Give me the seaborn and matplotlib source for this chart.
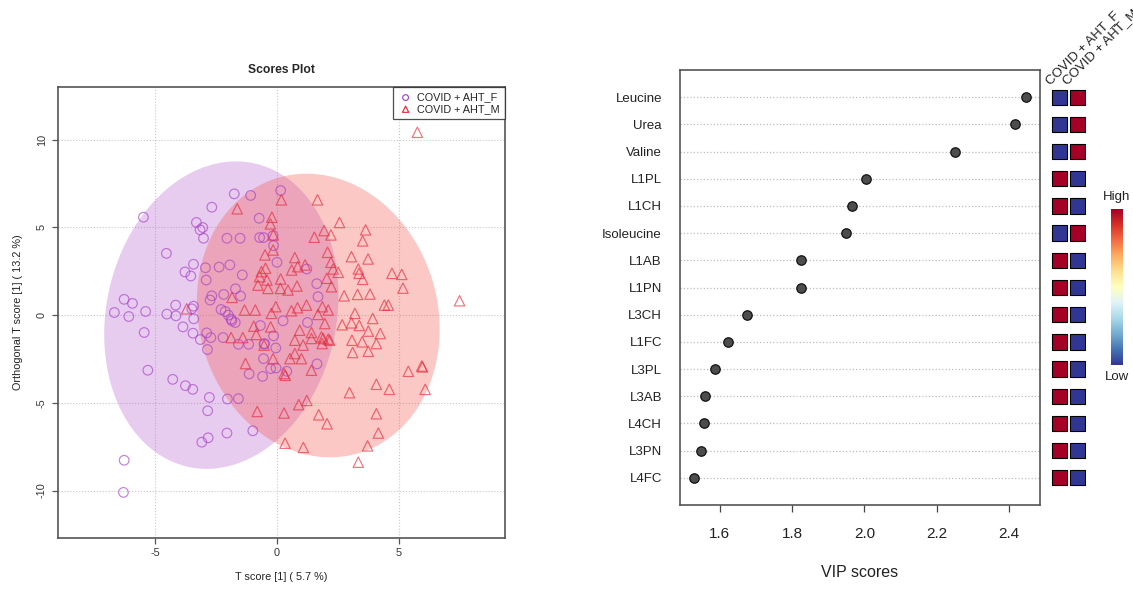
import numpy as np
import pandas as pd
import matplotlib
matplotlib.use("Agg")
import matplotlib.pyplot as plt
import seaborn as sns

sns.set_style("white")
plt.rcParams['font.family'] = ['Liberation Sans', 'DejaVu Sans']

# ---- scores plot data (T score, orthogonal T score) ----
f_t = [-5.47, -1.75, -1.08, 0.15, -2.67, -3.30, -3.04, -3.15, -3.01, -0.73,
       -2.05, -1.51, -0.71, -0.55, -0.16, -0.14, -4.53, -3.42, -3.77, -3.53,
       -2.93, -2.37, -1.93, 0.00, -2.90, -1.42, 1.22, 1.63, 1.68, -2.18,
       -1.70, -1.49, -2.67, -2.74, -6.26, -5.92, -6.66, -6.07, -5.38, -4.51,
       -4.15, -4.14, -3.42, -3.49, -3.41, -3.85, -3.44, -5.44, -2.29, -2.12,
       -1.99, -1.88, -1.71, -1.85, 0.25, 1.25, -0.68, -2.88, -2.71, -2.21,
       -1.58, -1.16, -0.14, -0.53, -0.05, -2.85, -3.14, 1.64, -0.55, -0.26,
       -0.04, 0.40, -1.14, -0.59, -5.29, -4.27, -3.75, -3.45, -2.77, -2.03,
       -1.58, -2.84, -2.05, -2.82, -3.08, -0.99, -6.26, -6.29, -0.51]
f_o = [5.58, 6.91, 6.82, 7.10, 6.15, 5.28, 4.99, 4.86, 4.38, 5.52,
       4.38, 4.38, 4.42, 4.42, 4.53, 3.96, 3.52, 2.90, 2.46, 2.23,
       2.70, 2.74, 2.86, 3.01, 2.00, 2.29, 2.63, 1.79, 1.05, 1.18,
       1.50, 1.09, 1.10, 0.86, 0.90, 0.67, 0.15, -0.08, 0.21, 0.06,
       0.57, -0.04, 0.51, 0.36, -0.21, -0.67, -1.03, -0.99, 0.32, 0.21,
       0.00, -0.23, -0.42, -0.32, -0.32, -0.42, -0.59, -1.01, -1.28, -1.28,
       -1.66, -1.66, -1.18, -1.66, -1.87, -1.96, -1.39, -2.78, -2.48, -3.05,
       -3.01, -3.20, -3.35, -3.49, -3.14, -3.66, -4.02, -4.23, -4.69, -4.78,
       -4.76, -5.45, -6.72, -6.99, -7.24, -6.59, -8.27, -10.10, -1.62]

m_t = [5.75, -1.63, 0.18, 1.66, -0.21, -0.27, 2.56, 3.63, 1.53, 1.93,
       2.21, 3.51, -0.15, -0.16, -0.49, 2.07, 3.05, 3.73, 0.73, 2.21,
       2.30, 0.85, 1.15, 0.60, -0.47, -0.64, -0.71, -0.41, 2.51, 3.33,
       3.36, 3.51, 4.71, 5.11, 5.16, 0.15, 0.82, -0.78, -0.37, 0.14,
       0.45, 2.04, 2.23, 2.75, 3.30, 3.81, 7.48, 4.40, 4.56, -1.84,
       -3.70, -1.33, -0.89, -0.05, -0.23, 0.59, 0.84, 1.21, 1.86, 2.10,
       1.68, 3.19, 3.92, 2.67, 3.05, 3.37, 4.23, 3.74, 1.96, 0.93,
       -0.95, -0.26, -0.85, -1.40, -1.88, 0.73, 3.07, 3.49, 4.07, 1.41,
       1.89, 2.16, 1.85, 1.07, 3.74, 3.10, -0.53, -1.29, -0.16, 0.53,
       0.73, 1.00, 1.41, 0.29, 0.34, 5.38, 5.93, 5.96, 6.07, 4.60,
       4.07, 2.97, 1.22, 0.89, -0.81, 0.29, 1.71, 2.05, 4.07, 4.15,
       3.71, 0.33, 1.08, 3.33, 1.41, 1.82, 2.10]
m_o = [10.42, 6.06, 6.57, 6.57, 5.58, 5.20, 5.28, 4.86, 4.44, 4.82,
       4.57, 4.23, 4.57, 3.71, 3.43, 3.58, 3.33, 3.20, 3.28, 3.01,
       2.63, 2.76, 2.86, 2.57, 2.67, 2.48, 2.19, 2.00, 2.44, 2.63,
       2.38, 2.04, 2.38, 2.32, 1.54, 2.06, 1.66, 1.71, 1.52, 1.52,
       1.43, 2.10, 1.62, 1.10, 1.18, 1.20, 0.82, 0.57, 0.57, 1.01,
       0.36, 0.29, 0.29, 0.48, 0.10, 0.25, 0.42, 0.57, 0.48, 0.29,
       0.04, 0.10, -0.19, -0.55, -0.44, -0.59, -1.05, -0.91, -0.48, -0.86,
       -0.63, -0.67, -1.10, -1.28, -1.28, -1.43, -1.43, -1.52, -1.62, -1.33,
       -1.33, -1.43, -1.62, -1.71, -2.06, -2.13, -1.71, -2.76, -2.48, -2.48,
       -2.19, -2.48, -3.14, -3.33, -3.43, -3.20, -2.90, -2.95, -4.23, -4.23,
       -3.94, -4.42, -4.86, -5.10, -5.49, -5.58, -5.68, -6.19, -5.62, -6.72,
       -7.45, -7.30, -7.54, -8.38, -0.99, -1.24, -1.37]

# 95% regions: centre, radii, skew of the top point
ell_f_center = [-2.28, 0.0]
ell_f_radii = [4.76, 8.76]
ell_f_skew = 0.6
ell_m_center = [1.69, -0.02]
ell_m_radii = [4.95, 8.08]
ell_m_skew = -0.48

# ---- VIP data ----
features = ["Leucine", "Urea", "Valine", "L1PL", "L1CH", "Isoleucine", "L1AB",
            "L1PN", "L3CH", "L1FC", "L3PL", "L3AB", "L4CH", "L3PN", "L4FC"]
vip = [2.447, 2.416, 2.251, 2.003, 1.967, 1.948, 1.825, 1.825, 1.675,
       1.623, 1.588, 1.560, 1.557, 1.549, 1.528]
groups = ["COVID + AHT_F", "COVID + AHT_M"]
high_f = [0, 0, 0, 1, 1, 0, 1, 1, 1, 1, 1, 1, 1, 1, 1]
high_m = [1 - v for v in high_f]

purple = "#a540c8"
red = "#e42a38"
cmap = plt.get_cmap("RdYlBu_r")

fig = plt.figure(figsize=(11.33, 5.92), dpi=100)

# ================= Scores plot =================
ax1 = fig.add_axes([58 / 1133, 54 / 592, 447 / 1133, 451 / 592])
t = np.linspace(0, 2 * np.pi, 300)
for c, r, sk, col in [(ell_f_center, ell_f_radii, ell_f_skew, "#b458cc"),
                      (ell_m_center, ell_m_radii, ell_m_skew, "#f54a42")]:
    ex = c[0] + r[0] * np.cos(t) + sk * np.sin(t)
    ey = c[1] + r[1] * np.sin(t)
    ax1.fill(ex, ey, color=col, alpha=0.3, lw=0, zorder=1)

sns.scatterplot(x=f_t, y=f_o, marker='o', s=48, facecolors='none',
                edgecolor=purple, linewidth=0.85, alpha=0.65,
                label=groups[0], ax=ax1, zorder=3)
sns.scatterplot(x=m_t, y=m_o, marker='^', s=56, facecolors='none',
                edgecolor=red, linewidth=0.85, alpha=0.65,
                label=groups[1], ax=ax1, zorder=3)

ax1.set_xlim(-8.97, 9.34)
ax1.set_ylim(-12.7, 13.0)
ax1.set_xticks([-5, 0, 5])
ax1.set_yticks([-10, -5, 0, 5, 10])
ax1.grid(True, linestyle=':', color='#c8c8c8', lw=0.8)
ax1.set_axisbelow(True)
for s in ax1.spines.values():
    s.set_color('#555555')
    s.set_linewidth(1.2)
ax1.tick_params(axis='both', direction='out', length=4, width=0.9,
                color='#555555', labelsize=7.8, labelcolor='#333333',
                bottom=True, left=True, pad=3)
ax1.tick_params(axis='y', labelrotation=90, pad=4)
ax1.set_xticklabels(["-5", "0", "5"])
ax1.set_yticklabels(["-10", "-5", "0", "5", "10"])
for lbl in ax1.get_yticklabels():
    lbl.set_va('center')
ax1.set_xlabel("T score [1] ( 5.7 %)", fontsize=7.8, color='#222222', labelpad=10)
ax1.set_ylabel("Orthogonal T score [1] ( 13.2 %)", fontsize=7.8, color='#222222',
               labelpad=10)
ax1.set_title("Scores Plot", fontsize=8.7, fontweight='bold', pad=10)
leg = ax1.legend(loc='upper right', frameon=True, fancybox=False,
                 edgecolor='#222222', borderaxespad=0, fontsize=7.8,
                 handletextpad=0.4, markerscale=0.6, borderpad=0.5,
                 labelspacing=0.15, handlelength=1.3)
leg.get_frame().set_linewidth(0.9)
for h in leg.legend_handles:
    h.set_alpha(1)

# ================= VIP plot =================
ax2 = fig.add_axes([680 / 1133, 87 / 592, 360 / 1133, 435 / 592])
rows = np.arange(len(features), 0, -1)
vip_df = pd.DataFrame({"feature": features, "vip": vip, "row": rows})
for r in rows:
    ax2.axhline(r, color='#bdbdbd', linestyle=':', lw=0.9, zorder=1)
sns.scatterplot(data=vip_df, x="vip", y="row", s=46, color='#4d4d4d',
                edgecolor='#111111', linewidth=0.9, ax=ax2, zorder=3)
ax2.set_xlim(1.4905, 2.485)
ax2.set_ylim(0, len(features) + 1)
ax2.set_yticks(rows)
ax2.set_yticklabels(features)
ax2.set_xticks([1.6, 1.8, 2.0, 2.2, 2.4])
ax2.set_xticklabels(["1.6", "1.8", "2.0", "2.2", "2.4"])
ax2.tick_params(axis='y', length=0, labelsize=9.5, labelcolor='#222222', pad=13)
ax2.tick_params(axis='x', direction='out', length=5, width=0.9, color='#444444',
                labelsize=11, labelcolor='#222222', bottom=True, pad=11)
for s in ax2.spines.values():
    s.set_color('#555555')
    s.set_linewidth(1.2)
ax2.set_xlabel("VIP scores", fontsize=11.5, color='#222222', labelpad=17)
ax2.set_ylabel("")

# ---- group heat squares ----
ax3 = fig.add_axes([1051 / 1133, 87 / 592, 35 / 1133, 435 / 592])
heat_df = pd.DataFrame({
    "col": np.repeat([1, 2], len(features)),
    "row": np.concatenate([rows, rows]),
    "level": high_f + high_m,
})
sns.scatterplot(data=heat_df, x="col", y="row", hue="level", marker='s', s=122,
                palette={0: cmap(0.0), 1: cmap(1.0)}, edgecolor='black',
                linewidth=0.8, legend=False, ax=ax3)
ax3.set_xlim(0.5, 2.5)
ax3.set_ylim(0, len(features) + 1)
ax3.axis('off')
for i, g in enumerate(groups):
    ax3.text(i + 1 - 0.45, 15.38, g, rotation=45, rotation_mode='anchor',
             ha='left', va='bottom', fontsize=9.5, color='#222222',
             clip_on=False)

# ---- colour key ----
cax = fig.add_axes([1110.5 / 1133, 227 / 592, 12 / 1133, 156 / 592])
grad = np.linspace(0, 1, 256).reshape(-1, 1)
cax.imshow(grad, aspect='auto', cmap=cmap, origin='lower')
cax.axis('off')
cax.text(0.5, 1.04, "High", transform=cax.transAxes, ha='center', va='bottom',
         fontsize=9.5, color='#222222')
cax.text(0.5, -0.04, "Low", transform=cax.transAxes, ha='center', va='top',
         fontsize=9.5, color='#222222')

fig.savefig("out.png", dpi=100)
